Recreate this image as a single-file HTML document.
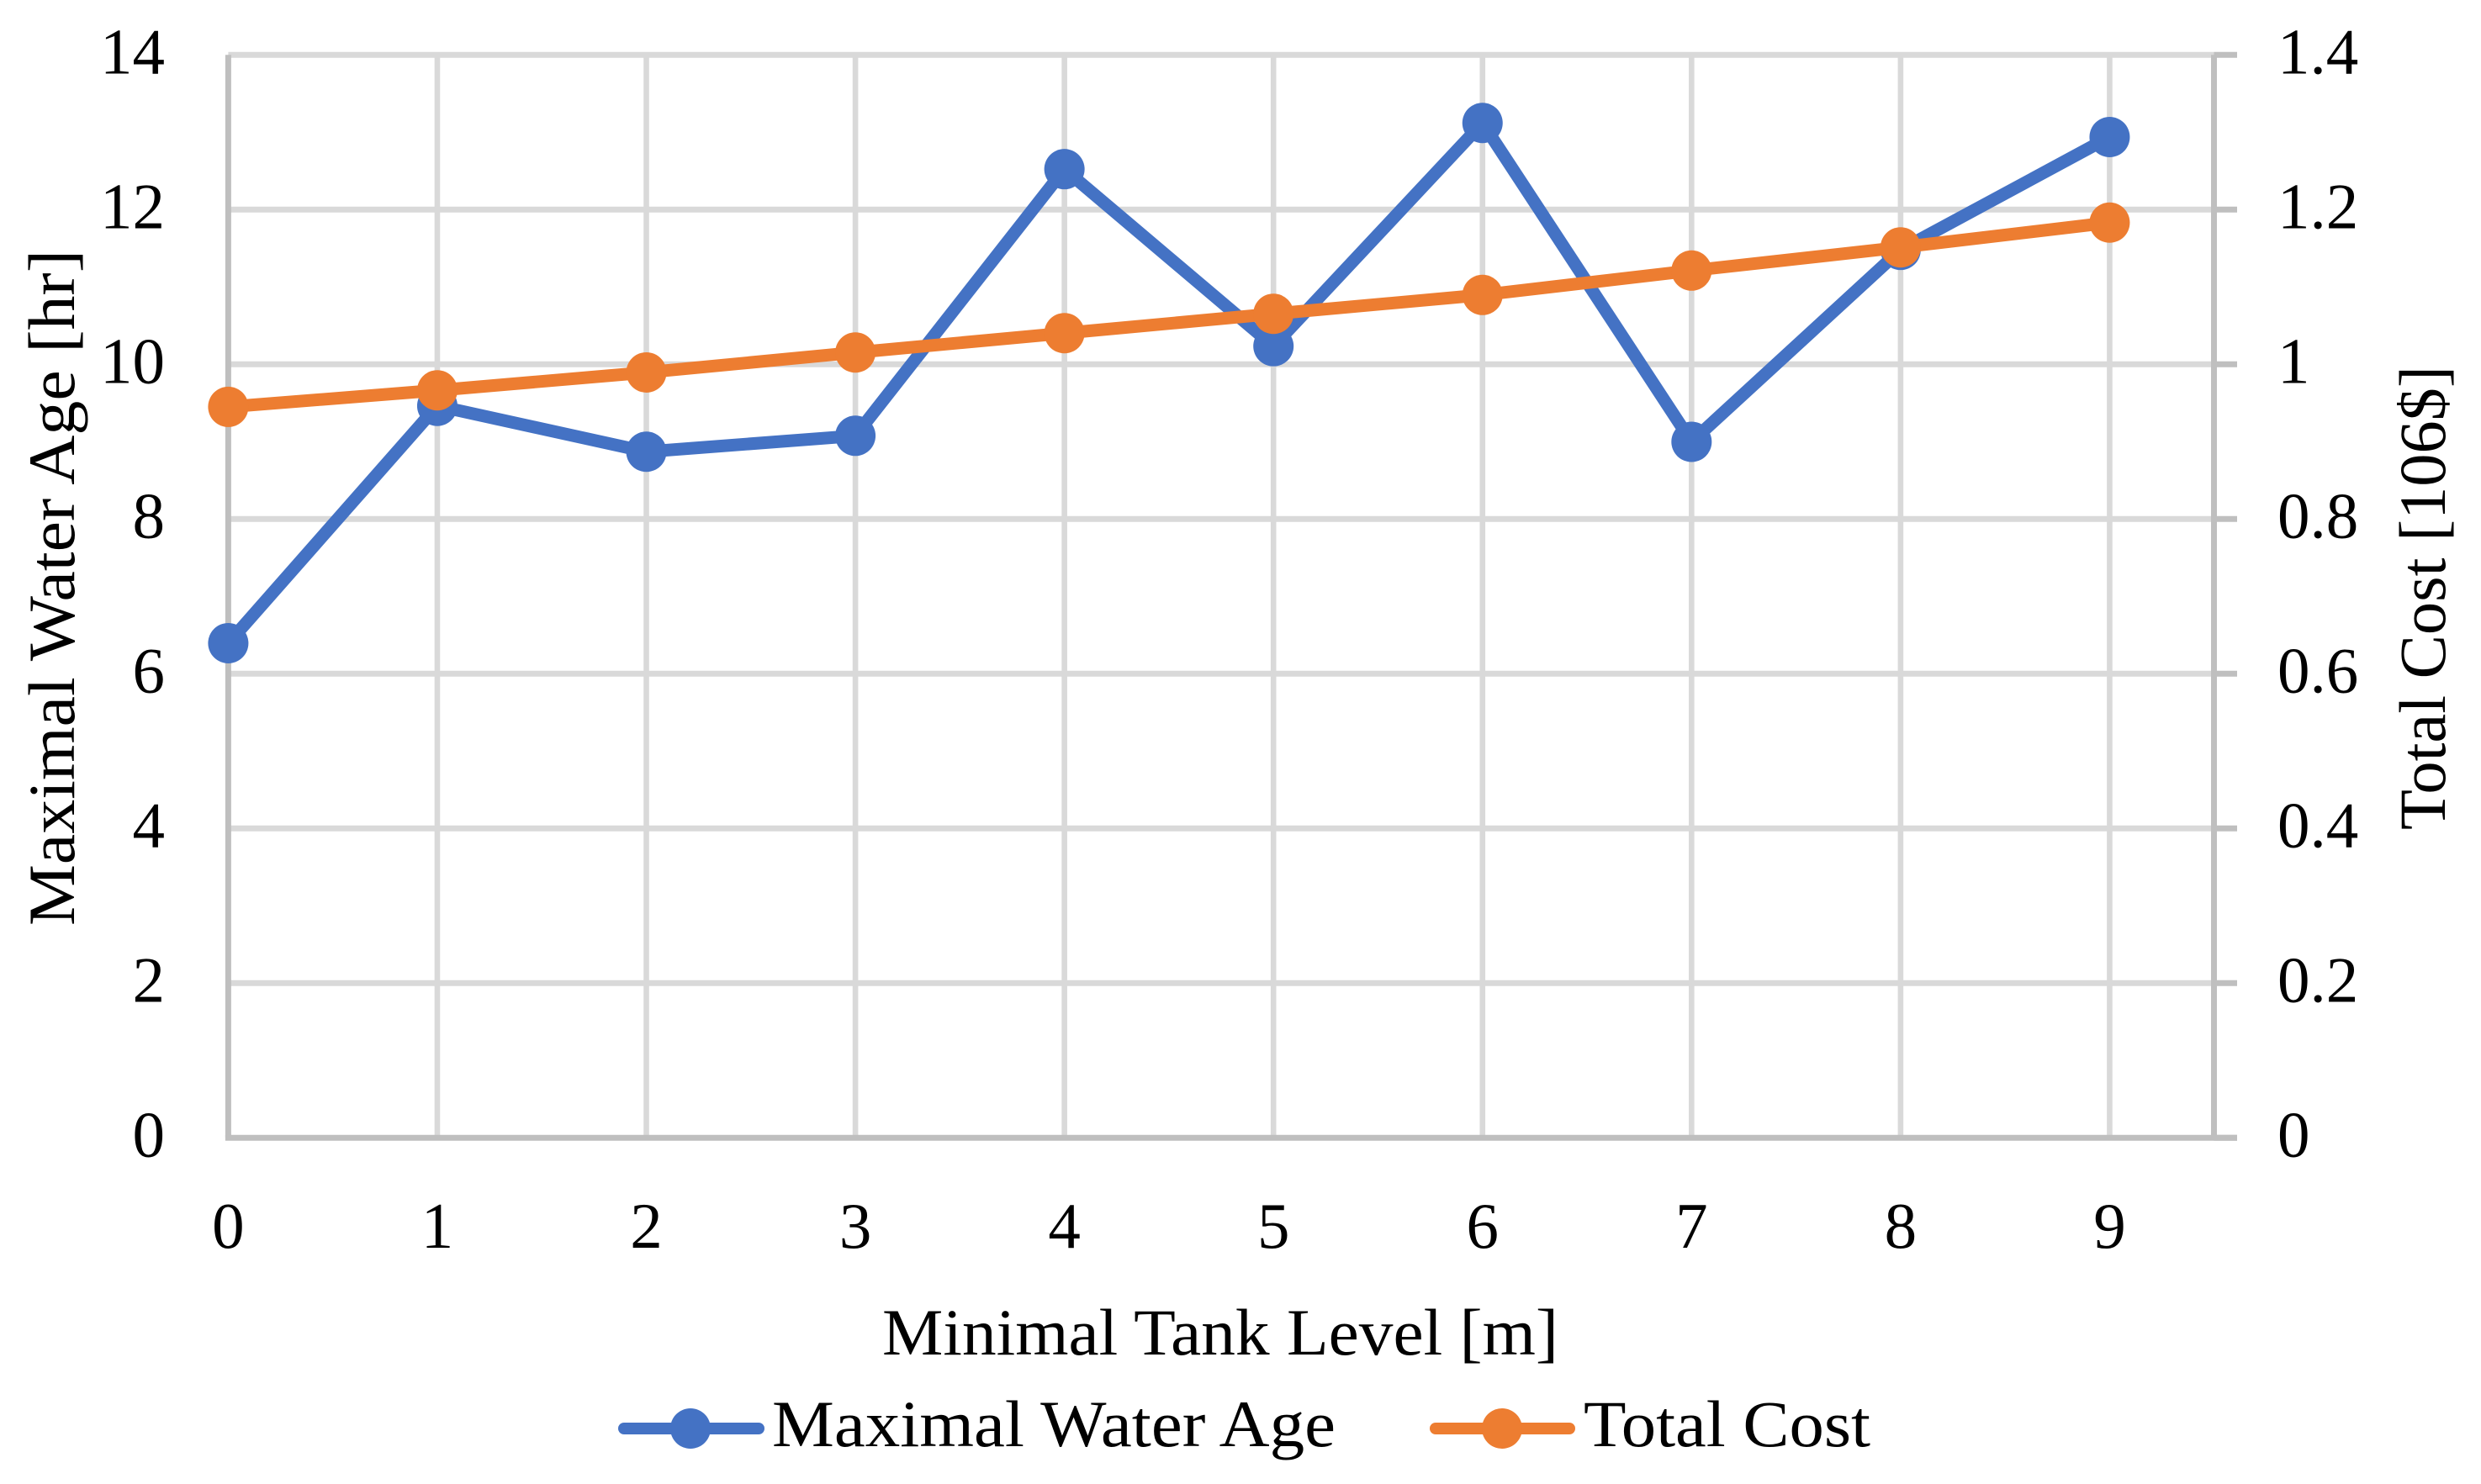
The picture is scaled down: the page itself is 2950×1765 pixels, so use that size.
<!DOCTYPE html>
<html lang="en">
<head>
<meta charset="utf-8">
<title>Maximal Water Age and Total Cost by Minimal Tank Level</title>
<style>
html, body { margin: 0; padding: 0; background: #ffffff; width: 2950px; height: 1765px; overflow: hidden; }
svg { display: block; }
text { font-family: "Liberation Serif", "Noto Serif CJK SC", serif; fill: #000000; }
</style>
</head>
<body>
<svg id="chart" xmlns="http://www.w3.org/2000/svg" width="2950" height="1765" viewBox="0 0 2950 1765">
  <rect x="0" y="0" width="2950" height="1765" fill="#ffffff"/>
  <g id="grid"></g>
  <g id="axes"></g>
  <g id="labels"></g>
  <g id="series"></g>

  <text x="1049" y="1611" font-size="78" textLength="804" lengthAdjust="spacingAndGlyphs">Minimal Tank Level [m]</text>
  <text transform="translate(88 1101) rotate(-90)" x="0" y="0" font-size="78" textLength="804" lengthAdjust="spacingAndGlyphs">Maximal Water Age [hr]</text>
  <text transform="translate(2907 987) rotate(-90)" x="0" y="0" font-size="78" textLength="552" lengthAdjust="spacingAndGlyphs">Total Cost [106$]</text>

  <g>
    <g>
      <line x1="742" y1="1699" x2="902" y2="1699" stroke="#4472c4" stroke-width="14" stroke-linecap="round"/>
      <circle cx="821" cy="1699" r="24" fill="#4472c4"/>
      <text x="918" y="1720" font-size="78" textLength="670" lengthAdjust="spacingAndGlyphs">Maximal Water Age</text>
    </g>
    <g>
      <line x1="1707" y1="1699" x2="1866" y2="1699" stroke="#ed7d31" stroke-width="14" stroke-linecap="round"/>
      <circle cx="1786" cy="1699" r="24" fill="#ed7d31"/>
      <text x="1883" y="1720" font-size="78" textLength="341" lengthAdjust="spacingAndGlyphs">Total Cost</text>
    </g>
  </g>
</svg>
<script>
const categories = [0, 1, 2, 3, 4, 5, 6, 7, 8, 9];
const maximalWaterAge = [6.395, 9.463, 8.87, 9.076, 12.523, 10.235, 13.12, 8.998, 11.48, 12.938];
const totalCost = [0.945, 0.9664, 0.9895, 1.0153, 1.0403, 1.0653, 1.0897, 1.1212, 1.1512, 1.1832];
const leftTicks = [0, 2, 4, 6, 8, 10, 12, 14];
const rightTicks = [0, 0.2, 0.4, 0.6, 0.8, 1, 1.2, 1.4];

const SVG_NS = 'http://www.w3.org/2000/svg';
const plotLeft = 271.4;
const plotRight = 2632.5;
const plotTop = 65.3;
const plotBottom = 1353.3;
const categoryStep = 248.56;
const leftMax = 14;
const rightMax = 1.4;

function xScale(c) { return plotLeft + c * categoryStep; }
function yLeft(v) { return plotBottom - (v / leftMax) * (plotBottom - plotTop); }
function yRight(v) { return plotBottom - (v / rightMax) * (plotBottom - plotTop); }

function make(tag, attrs, parent) {
  const el = document.createElementNS(SVG_NS, tag);
  Object.keys(attrs).forEach(function (k) { el.setAttribute(k, attrs[k]); });
  parent.appendChild(el);
  return el;
}

const gridGroup = document.getElementById('grid');
const axesGroup = document.getElementById('axes');
const labelGroup = document.getElementById('labels');
const seriesGroup = document.getElementById('series');

leftTicks.forEach(function (t) {
  if (t === 0) return;
  const el = make('line', { x1: plotLeft, x2: plotRight, y1: yLeft(t), y2: yLeft(t), stroke: '#d9d9d9', 'stroke-width': 7 }, gridGroup);
  
  
});

categories.forEach(function (c) {
  if (c === 0) return;
  const el = make('line', { x1: xScale(c), x2: xScale(c), y1: plotTop, y2: plotBottom, stroke: '#d9d9d9', 'stroke-width': 6.6 }, gridGroup);
  
  
});

const leftAxis = make('line', { x1: plotLeft, x2: plotLeft, y1: plotTop, y2: plotBottom, stroke: '#bfbfbf', 'stroke-width': 7 }, axesGroup);



const rightAxis = make('line', { x1: plotRight, x2: plotRight, y1: plotTop, y2: plotBottom, stroke: '#bfbfbf', 'stroke-width': 7 }, axesGroup);



const bottomAxis = make('line', { x1: plotLeft - 3.5, x2: 2660, y1: plotBottom, y2: plotBottom, stroke: '#bfbfbf', 'stroke-width': 7 }, axesGroup);



rightTicks.forEach(function (t) {
  const tick = make('line', { x1: plotRight, x2: 2660, y1: yRight(t), y2: yRight(t), stroke: '#bfbfbf', 'stroke-width': 7 }, axesGroup);
  
  

  const label = make('text', { x: 2708, y: yRight(t) + 22, 'font-size': 77 }, labelGroup);
  label.textContent = String(t);
  
  
});

leftTicks.forEach(function (t) {
  const label = make('text', { x: 196, y: yLeft(t) + 22, 'font-size': 77, 'text-anchor': 'end' }, labelGroup);
  label.textContent = String(t);
  
  
});

categories.forEach(function (c) {
  const label = make('text', { x: xScale(c), y: 1484, 'font-size': 77, 'text-anchor': 'middle' }, labelGroup);
  label.textContent = String(c);
  
  
});

function drawLine(values, scale, color, parent) {
  const pts = values.map(function (v, i) { return xScale(categories[i]) + ',' + scale(v); }).join(' ');
  return make('polyline', { points: pts, fill: 'none', stroke: color, 'stroke-width': 15, 'stroke-linejoin': 'round', 'stroke-linecap': 'round' }, parent);
}

const waterGroup = make('g', {}, seriesGroup);



const waterLine = drawLine(maximalWaterAge, yLeft, '#4472c4', waterGroup);



maximalWaterAge.forEach(function (v, i) {
  const dot = make('circle', { cx: xScale(categories[i]), cy: yLeft(v), r: 24, fill: '#4472c4' }, waterGroup);
  
  
});

const costGroup = make('g', {}, seriesGroup);



const costLine = drawLine(totalCost, yRight, '#ed7d31', costGroup);



totalCost.forEach(function (v, i) {
  const dot = make('circle', { cx: xScale(categories[i]), cy: yRight(v), r: 24, fill: '#ed7d31' }, costGroup);
  
  
});
</script>
</body>
</html>
